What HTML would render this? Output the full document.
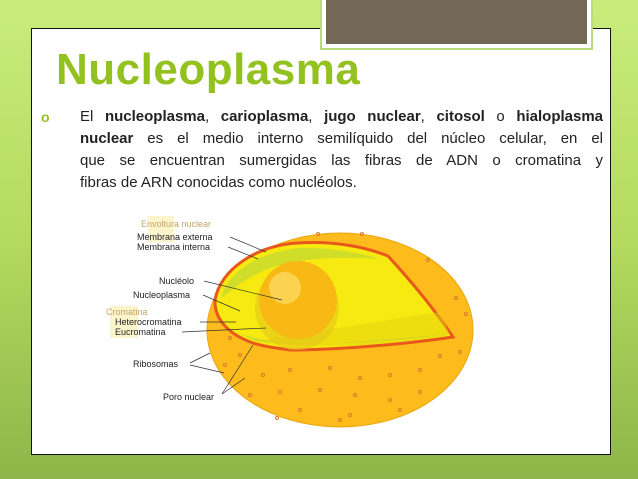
<!DOCTYPE html>
<html><head><meta charset="utf-8"><style>
html,body{margin:0;padding:0;width:638px;height:479px;overflow:hidden;font-family:"Liberation Sans",sans-serif}
#bg{position:absolute;left:0;top:0;width:638px;height:479px;background:linear-gradient(180deg,#c9ec7c 0%,#b4da5e 50%,#8db64a 100%)}
#panel{position:absolute;left:31px;top:28px;width:578px;height:425px;background:#fff;border:1.5px solid #111}
#brown{position:absolute;left:322px;top:0;width:261px;height:44px;background:#736858;border:4px solid #fff;border-top:none;box-shadow:0 0 0 2px #b9dc78}
#title{position:absolute;left:56px;top:45px;font-size:44px;font-weight:bold;color:#93c11f;letter-spacing:0.5px}
#txt{position:absolute;left:80px;top:106px;width:523px;font-size:15px;line-height:22px;color:#222}
#txt div{text-align:justify;text-align-last:justify;white-space:nowrap}
#txt div.l{text-align-last:left}
#bul{position:absolute;left:41px;top:106px;font-size:14px;line-height:22px;color:#93c11f;font-weight:bold}
</style></head><body>
<div id="bg"></div>
<div id="panel"></div>
<div id="brown"></div>
<div id="title">Nucleoplasma</div>
<div id="bul">o</div>
<div id="txt">
<div>El <b>nucleoplasma</b>, <b>carioplasma</b>, <b>jugo nuclear</b>, <b>citosol</b> o <b>hialoplasma</b></div>
<div><b>nuclear</b> es el medio interno semilíquido del núcleo celular, en el</div>
<div>que se encuentran sumergidas las fibras de ADN o cromatina y</div>
<div class="l">fibras de ARN conocidas como nucléolos.</div>
</div>
<svg style="position:absolute;left:0;top:0" width="638" height="479">
<ellipse cx="340" cy="330" rx="133" ry="97" fill="#fdbb1c" stroke="#e9a512" stroke-width="1"/>
<path d="M253,343 C230,335 214,320 215,300 C220,270 255,246 297,243 C330,241 360,245 388,256 C410,280 435,310 453,337 C400,345 330,350 290,350 C275,348 262,346 253,343 Z" fill="#f6ea10" stroke="#e8581c" stroke-width="3"/>
<path d="M221,298 C228,272 255,254 297,248 C320,247 350,250 380,259 C340,256 300,258 270,268 C245,278 232,290 221,298 Z" fill="#b7d43a" opacity="0.6"/>
<path d="M232,330 C250,340 290,345 330,344 L445,334 C400,342 300,348 255,341 Z" fill="#b7d43a" opacity="0.6"/>
<path d="M255,341 L440,312 L450,335 C400,345 320,350 255,341 Z" fill="#e6d20f" opacity="0.5"/>
<circle cx="297" cy="308" r="42" fill="#e3c31b" opacity="0.55"/>
<circle cx="298" cy="300" r="39" fill="#f9b914"/>
<circle cx="285" cy="288" r="16" fill="#fde37a" opacity="0.6"/>
<g fill="none" stroke="#d97a2a" stroke-width="1">
<circle cx="318" cy="234" r="1.5"/><circle cx="362" cy="234" r="1.5"/><circle cx="428" cy="260" r="1.5"/><circle cx="456" cy="298" r="1.5"/><circle cx="466" cy="314" r="1.5"/><circle cx="460" cy="352" r="1.5"/><circle cx="440" cy="356" r="1.5"/><circle cx="420" cy="370" r="1.5"/><circle cx="390" cy="375" r="1.5"/><circle cx="360" cy="378" r="1.5"/><circle cx="330" cy="368" r="1.5"/><circle cx="290" cy="370" r="1.5"/><circle cx="263" cy="375" r="1.5"/><circle cx="250" cy="395" r="1.5"/><circle cx="280" cy="392" r="1.5"/><circle cx="320" cy="390" r="1.5"/><circle cx="355" cy="395" r="1.5"/><circle cx="390" cy="400" r="1.5"/><circle cx="420" cy="392" r="1.5"/><circle cx="300" cy="410" r="1.5"/><circle cx="350" cy="415" r="1.5"/><circle cx="400" cy="410" r="1.5"/><circle cx="230" cy="338" r="1.5"/><circle cx="240" cy="355" r="1.5"/><circle cx="225" cy="365" r="1.5"/><circle cx="340" cy="420" r="1.5"/><circle cx="277" cy="418" r="1.5"/>
</g>
<rect x="148" y="216" width="26" height="26" fill="#fbf3bf" opacity="0.8"/>
<rect x="110" y="306" width="28" height="32" fill="#fbf3bf" opacity="0.8"/>
<g font-family="Liberation Sans,sans-serif" font-size="9" fill="#222">
<text x="141" y="227" fill="#c2a66a">Envoltura nuclear</text>
<text x="137" y="240">Membrana externa</text>
<text x="137" y="250">Membrana interna</text>
<text x="159" y="284">Nucléolo</text>
<text x="133" y="298">Nucleoplasma</text>
<text x="106" y="315" fill="#c2a66a">Cromatina</text>
<text x="115" y="325">Heterocromatina</text>
<text x="115" y="335">Eucromatina</text>
<text x="133" y="367">Ribosomas</text>
<text x="163" y="400">Poro nuclear</text>
</g>
<g stroke="#333" stroke-width="0.7" fill="none">
<path d="M230,237 L266,252"/><path d="M228,247 L258,259"/>
<path d="M204,281 L282,300"/><path d="M203,295 L240,311"/>
<path d="M200,322 L236,322"/><path d="M182,332 L266,328"/>
<path d="M190,363 L210,353"/><path d="M190,365 L224,373"/>
<path d="M222,394 L253,345"/><path d="M222,394 L245,378"/>
</g>
</svg>
</body></html>
